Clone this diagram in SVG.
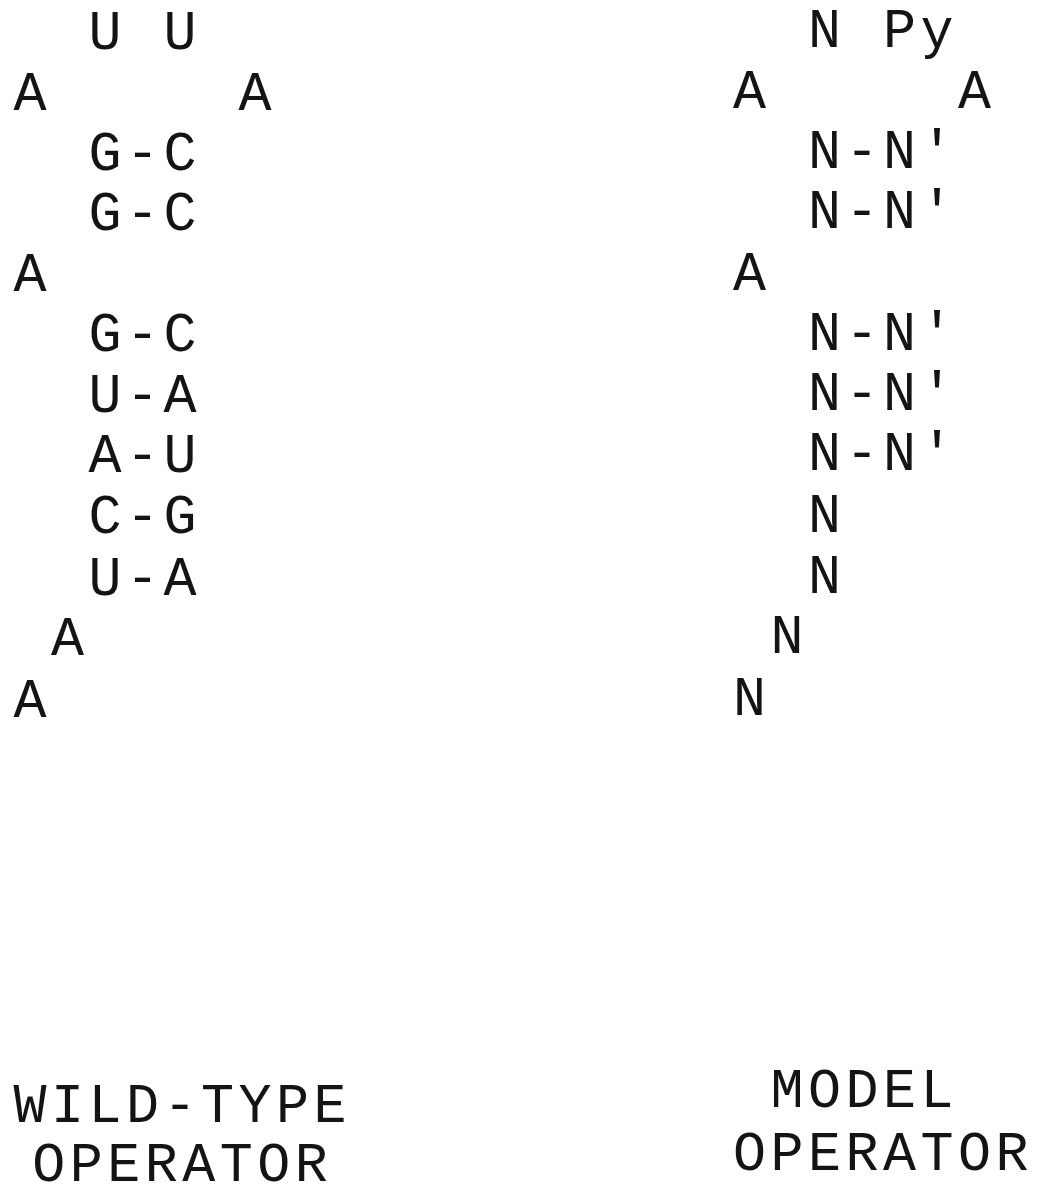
<svg xmlns="http://www.w3.org/2000/svg" width="1037" height="1187" viewBox="0 0 1037 1187">
  <style>
    text { font-family: "Liberation Mono", "Courier New", monospace; font-size: 55px; letter-spacing: 4.5px; fill: #141414; }
  </style>
  <rect width="1037" height="1187" fill="#ffffff"/>

  <!-- wild-type hairpin, monospaced columns 37.5px apart -->
  <g id="wild-type">
    <text x="88.5" y="49">U</text>
    <text x="163.5" y="49">U</text>
    <text x="13.5" y="110">A</text>
    <text x="238.5" y="110">A</text>
    <text x="88.5" y="170">G-C</text>
    <text x="88.5" y="230">G-C</text>
    <text x="13.5" y="291">A</text>
    <text x="88.5" y="351">G-C</text>
    <text x="88.5" y="412">U-A</text>
    <text x="88.5" y="472">A-U</text>
    <text x="88.5" y="533">C-G</text>
    <text x="88.5" y="595">U-A</text>
    <text x="51" y="655">A</text>
    <text x="13.5" y="717">A</text>
  </g>

  <!-- model hairpin -->
  <g id="model">
    <text x="808" y="47">N</text>
    <text x="883" y="47">Py</text>
    <text x="733" y="108">A</text>
    <text x="958" y="108">A</text>
    <text x="808" y="168">N-N'</text>
    <text x="808" y="228">N-N'</text>
    <text x="733" y="290">A</text>
    <text x="808" y="350">N-N'</text>
    <text x="808" y="410">N-N'</text>
    <text x="808" y="470">N-N'</text>
    <text x="808" y="532">N</text>
    <text x="808" y="593">N</text>
    <text x="770.5" y="653">N</text>
    <text x="733" y="715">N</text>
  </g>

  <!-- captions -->
  <g id="label-wild-type">
    <text x="13.5" y="1122">WILD-TYPE</text>
    <text x="32.25" y="1181">OPERATOR</text>
  </g>
  <g id="label-model">
    <text x="770.5" y="1107">MODEL</text>
    <text x="733" y="1170">OPERATOR</text>
  </g>
</svg>
